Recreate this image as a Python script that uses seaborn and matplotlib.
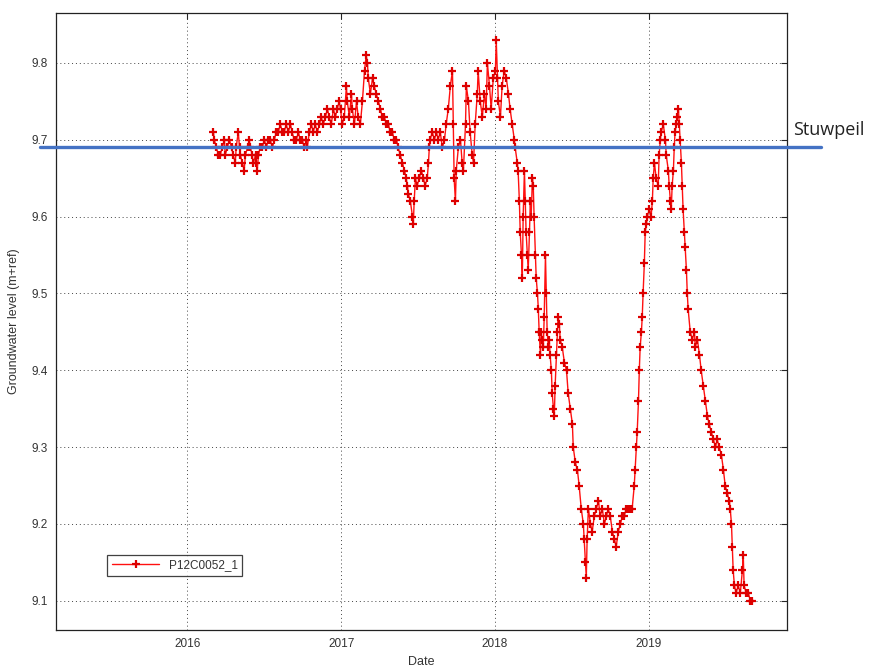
import pandas as pd
import matplotlib
matplotlib.use("Agg")
import matplotlib.pyplot as plt
import seaborn as sns

# measurement days, counted from 2016-01-01, and groundwater level (m+ref)
days_2016 = [62, 64, 69, 74, 78, 83, 88, 90, 95, 100,
             105, 109, 114, 116, 121, 124, 126, 131, 135, 138,
             143, 147, 150, 154, 157, 162, 164, 166, 169, 173,
             178, 183, 188, 192, 197, 202, 207, 211, 216, 221,
             226, 230, 235, 240, 245, 249, 254, 259, 264, 268,
             273, 278, 283, 285, 290, 295, 299, 304, 309, 314,
             318, 323, 328, 333, 337, 342, 347, 352, 356, 361]
level_2016 = [9.71, 9.70, 9.69, 9.68, 9.68, 9.69, 9.70, 9.68, 9.69, 9.70,
              9.69, 9.68, 9.67, 9.69, 9.71, 9.69, 9.68, 9.67, 9.66, 9.68,
              9.69, 9.70, 9.69, 9.68, 9.67, 9.68, 9.67, 9.66, 9.68, 9.69,
              9.69, 9.70, 9.69, 9.70, 9.70, 9.69, 9.70, 9.71, 9.71, 9.72,
              9.71, 9.71, 9.72, 9.71, 9.72, 9.71, 9.70, 9.70, 9.71, 9.70,
              9.70, 9.69, 9.70, 9.69, 9.71, 9.72, 9.71, 9.72, 9.71, 9.72,
              9.73, 9.72, 9.73, 9.74, 9.73, 9.72, 9.74, 9.73, 9.74, 9.75]

days_2017 = [364, 368, 373, 378, 380, 385, 390, 392, 397, 402,
             406, 411, 416, 421, 425, 428, 430, 435, 440, 444,
             449, 454, 459, 463, 468, 473, 478, 482, 487, 492,
             497, 501, 506, 511, 516, 520, 523, 525, 530, 535,
             537, 539, 542, 546, 551, 556, 561, 565, 570, 573,
             575, 577, 582, 587, 592, 596, 601, 606, 611, 615,
             620, 625, 630, 632, 634, 637, 639, 644, 649, 653,
             656, 661, 663, 668, 672, 677, 680, 684, 689, 691,
             696, 701, 706, 710, 713, 718, 722, 727, 732, 734,
             737, 739, 744, 748, 753, 758, 763, 767, 772, 777,
             779, 784]
level_2017 = [9.74, 9.72, 9.73, 9.77, 9.75, 9.73, 9.76, 9.74, 9.72, 9.75,
              9.73, 9.72, 9.75, 9.79, 9.81, 9.80, 9.78, 9.76, 9.78, 9.77,
              9.76, 9.75, 9.74, 9.73, 9.73, 9.72, 9.72, 9.71, 9.71, 9.70,
              9.70, 9.69, 9.68, 9.67, 9.66, 9.65, 9.64, 9.63, 9.62, 9.60,
              9.59, 9.62, 9.65, 9.64, 9.65, 9.66, 9.65, 9.64, 9.65, 9.67,
              9.69, 9.70, 9.71, 9.70, 9.71, 9.70, 9.71, 9.69, 9.70, 9.72,
              9.74, 9.77, 9.79, 9.72, 9.65, 9.62, 9.66, 9.69, 9.70, 9.67,
              9.66, 9.72, 9.77, 9.75, 9.71, 9.68, 9.67, 9.72, 9.76, 9.79,
              9.75, 9.73, 9.76, 9.74, 9.80, 9.77, 9.74, 9.78, 9.79, 9.83,
              9.78, 9.75, 9.73, 9.77, 9.79, 9.78, 9.76, 9.74, 9.72, 9.70,
              9.69, 9.67]

days_2018 = [786, 789, 791, 794, 796, 798, 801, 803, 805, 808,
             810, 813, 815, 817, 820, 822, 824, 827, 829, 832,
             834, 836, 839, 841, 843, 846, 848, 851, 853, 855,
             858, 860, 862, 865, 867, 870, 872, 874, 877, 879,
             881, 884, 886, 891, 896, 901, 905, 910, 915, 917,
             922, 927, 931, 936, 941, 943, 946, 948, 950, 953,
             958, 962, 967, 972, 977, 981, 986, 991, 996, 1000,
             1005, 1010, 1015, 1019, 1024, 1029, 1034, 1038, 1043, 1048,
             1053, 1057, 1062, 1064, 1067, 1069, 1072, 1074, 1076, 1079,
             1081, 1083, 1086, 1088, 1091, 1093, 1098, 1102, 1105, 1107,
             1110, 1114, 1119, 1121, 1124, 1126, 1131, 1136, 1138, 1143,
             1145, 1148, 1150, 1152, 1155, 1157, 1159, 1162, 1164, 1167,
             1169, 1171, 1174, 1176, 1178, 1181, 1183, 1186, 1188, 1190,
             1195, 1200, 1205, 1207, 1212, 1217, 1221, 1226, 1231, 1236,
             1240, 1245, 1250, 1255, 1259, 1264, 1269, 1274, 1278, 1283,
             1288, 1290, 1293, 1295, 1297, 1300, 1304, 1309, 1314, 1319,
             1321, 1323, 1328, 1333, 1338, 1342]
level_2018 = [9.66, 9.62, 9.58, 9.55, 9.52, 9.60, 9.66, 9.62, 9.58, 9.55,
              9.53, 9.58, 9.62, 9.60, 9.65, 9.64, 9.60, 9.55, 9.52, 9.50,
              9.48, 9.45, 9.42, 9.45, 9.44, 9.43, 9.47, 9.55, 9.50, 9.45,
              9.43, 9.44, 9.42, 9.40, 9.37, 9.35, 9.34, 9.38, 9.42, 9.45,
              9.47, 9.46, 9.44, 9.43, 9.41, 9.40, 9.37, 9.35, 9.33, 9.30,
              9.28, 9.27, 9.25, 9.22, 9.20, 9.18, 9.15, 9.13, 9.18, 9.22,
              9.20, 9.19, 9.21, 9.22, 9.23, 9.21, 9.22, 9.20, 9.21, 9.22,
              9.21, 9.19, 9.18, 9.17, 9.19, 9.20, 9.21, 9.21, 9.22, 9.22,
              9.22, 9.22, 9.25, 9.27, 9.30, 9.32, 9.36, 9.40, 9.43, 9.45,
              9.47, 9.50, 9.54, 9.58, 9.59, 9.60, 9.61, 9.60, 9.62, 9.65,
              9.67, 9.65, 9.64, 9.68, 9.70, 9.71, 9.72, 9.70, 9.68, 9.66,
              9.64, 9.62, 9.61, 9.64, 9.66, 9.69, 9.71, 9.72, 9.73, 9.74,
              9.72, 9.70, 9.67, 9.64, 9.61, 9.58, 9.56, 9.53, 9.50, 9.48,
              9.45, 9.44, 9.45, 9.43, 9.44, 9.42, 9.40, 9.38, 9.36, 9.34,
              9.33, 9.32, 9.31, 9.30, 9.31, 9.30, 9.29, 9.27, 9.25, 9.24,
              9.23, 9.22, 9.20, 9.17, 9.14, 9.12, 9.11, 9.12, 9.11, 9.14,
              9.16, 9.12, 9.11, 9.11, 9.10, 9.10]

stuwpeil = 9.69
series_name = "P12C0052_1"
year_ticks = ["2016", "2017", "2018", "2019"]
y_ticks = [9.1, 9.2, 9.3, 9.4, 9.5, 9.6, 9.7, 9.8]

days = days_2016 + days_2017 + days_2018
level = level_2016 + level_2017 + level_2018
df = pd.DataFrame({
    "Date": pd.Timestamp("2016-01-01") + pd.to_timedelta(days, unit="D"),
    "level": level,
})

sns.set_style("white")
plt.rcParams["font.family"] = ["Liberation Sans", "DejaVu Sans"]

fig = plt.figure(figsize=(8.77, 6.68), dpi=100)
ax = fig.add_axes([0.0639, 0.0569, 0.8335, 0.9236])

sns.lineplot(data=df, x="Date", y="level", ax=ax, color="#ff1010",
             linewidth=1.0, marker="+", markersize=6, markeredgewidth=1.6,
             markeredgecolor="#dd0000", label=series_name, sort=False)

ax.set_xlim(pd.Timestamp("2015-02-23"), pd.Timestamp("2019-11-26"))
ax.set_ylim(9.062, 9.865)
ax.set_xticks([pd.Timestamp(y + "-01-01") for y in year_ticks])
ax.set_xticklabels(year_ticks)
ax.set_yticks(y_ticks)
ax.set_yticklabels([f"{v:.1f}" for v in y_ticks])

ax.grid(True, linestyle=(0, (1, 3)), color="#444444", linewidth=0.7)
ax.tick_params(direction="in", length=4, width=0.8, labelsize=8.5,
               labelcolor="#333333", top=True, right=True, pad=6)
for s in ax.spines.values():
    s.set_color("#222222")
    s.set_linewidth(0.9)

ax.set_xlabel("Date", fontsize=9, color="#333333", labelpad=4)
ax.set_ylabel("Groundwater level (m+ref)", fontsize=9, color="#333333", labelpad=8)

# weir level line, drawn past both sides of the axes
ax.plot([-0.022, 1.047], [stuwpeil, stuwpeil], color="#4472c4", linewidth=2.4,
        transform=ax.get_yaxis_transform(), clip_on=False, zorder=5)
ax.annotate("Stuwpeil", xy=(1.008, stuwpeil), xycoords=ax.get_yaxis_transform(),
            xytext=(0, 6), textcoords="offset points", va="bottom", ha="left",
            fontsize=13, family=["Open Sans", "DejaVu Sans"], color="#222222",
            annotation_clip=False)

leg = ax.legend(loc="lower left", bbox_to_anchor=(0.062, 0.078), fontsize=8.5,
                frameon=True, fancybox=False, borderpad=0.4, handlelength=4,
                labelcolor="#333333")
leg.get_frame().set_edgecolor("#111111")
leg.get_frame().set_linewidth(0.9)

fig.savefig("out.png", dpi=100, facecolor="white")
